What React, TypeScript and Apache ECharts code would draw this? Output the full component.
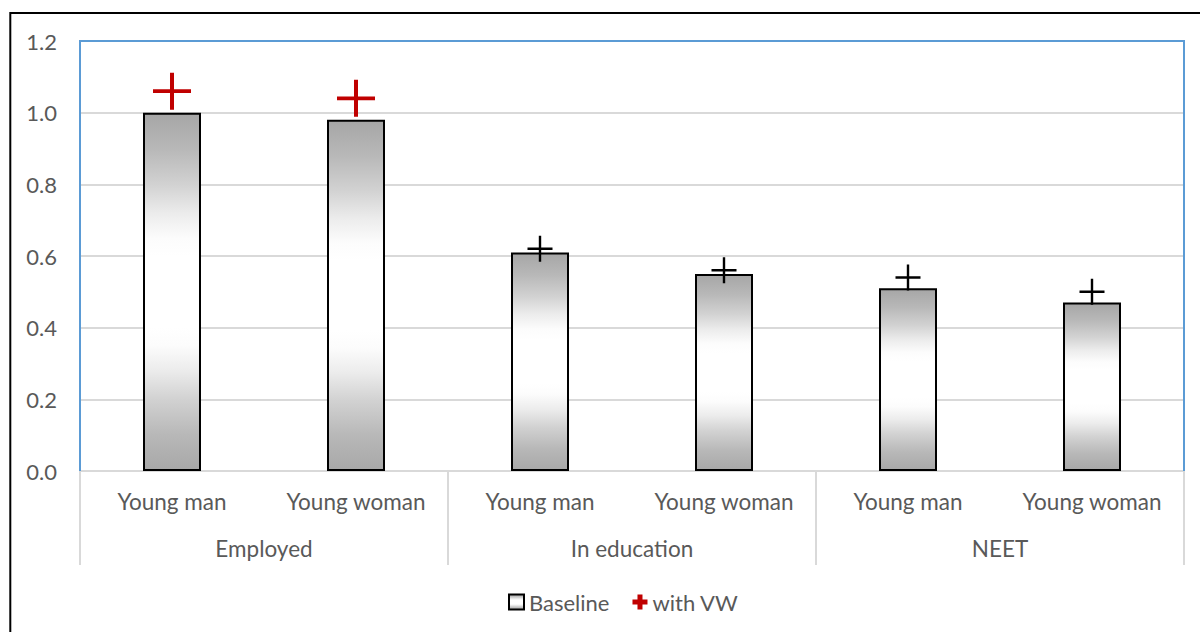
import React, { useEffect, useRef } from "react";
import * as echarts from "echarts";

// Sub-categories along the inner axis row and their outer groups
const subCategories = ["Young man", "Young woman", "Young man", "Young woman", "Young man", "Young woman"];
const groups = ["Employed", "In education", "NEET"];

// Baseline values (bars)
const baselineValues = [1.0, 0.98, 0.61, 0.55, 0.51, 0.47];
// Values with VW (plus markers)
const withVWValues = [1.06, 1.04, 0.62, 0.56, 0.54, 0.5];
// Which with-VW points are highlighted in red
const highlighted = [true, true, false, false, false, false];

const yTicks = { min: 0, max: 1.2, interval: 0.2 };

const RED = "#c00000";
const TEXT = "#595959";
const FONT = "Lato";

const bigPlus = "path://M17,0H21V17H38V21H21V38H17V21H0V17H17Z";
const smallPlus = "path://M11.75,0H14.25V11.75H26V14.25H14.25V26H11.75V14.25H0V11.75H11.75Z";
const legendPlus = "path://M5,0H10V5H15V10H10V15H5V10H0V5H5Z";

export default function App() {
  const ref = useRef<HTMLDivElement>(null);

  useEffect(() => {
    if (!ref.current) return;
    const chart = echarts.init(ref.current, undefined, { renderer: "svg" });

    // Grey at both ends, fading smoothly into a white band in the middle
    const barFill = new echarts.graphic.LinearGradient(0, 0, 0, 1, [
      { offset: 0, color: "#a6a6a6" },
      { offset: 0.1, color: "#b8b8b8" },
      { offset: 0.2, color: "#d2d2d2" },
      { offset: 0.28, color: "#ececec" },
      { offset: 0.35, color: "#fcfcfc" },
      { offset: 0.4, color: "#ffffff" },
      { offset: 0.6, color: "#ffffff" },
      { offset: 0.65, color: "#fcfcfc" },
      { offset: 0.72, color: "#ececec" },
      { offset: 0.8, color: "#d2d2d2" },
      { offset: 0.9, color: "#b8b8b8" },
      { offset: 1, color: "#a8a8a8" },
    ]);

    const scatterData = withVWValues.map((v, i) =>
      highlighted[i]
        ? { value: v, symbol: bigPlus, symbolSize: [38, 37], itemStyle: { color: RED } }
        : { value: v, symbol: smallPlus, symbolSize: [25, 26], itemStyle: { color: "#000000" } }
    );

    chart.setOption({
      animation: false,
      backgroundColor: "#ffffff",
      textStyle: { fontFamily: FONT },
      grid: { left: 80, top: 41, right: 16, bottom: 161, containLabel: false },
      legend: {
        left: 503,
        top: 586,
        itemWidth: 15,
        itemHeight: 15,
        itemGap: 23,
        textStyle: { color: TEXT, fontSize: 22, fontFamily: FONT },
        data: [
          { name: "Baseline", icon: "rect" },
          { name: "with VW", icon: legendPlus, itemStyle: { color: RED } },
        ],
      },
      xAxis: [
        {
          type: "category",
          data: subCategories,
          position: "bottom",
          axisLine: { show: true, lineStyle: { color: "#d9d9d9", width: 2 } },
          axisTick: { show: false },
          axisLabel: { color: TEXT, fontSize: 22.5, fontFamily: FONT, margin: 19, interval: 0 },
          splitLine: { show: false },
        },
        {
          type: "category",
          data: groups,
          position: "bottom",
          axisLine: { show: false },
          axisTick: { show: true, length: 94, lineStyle: { color: "#d9d9d9", width: 2 } },
          axisLabel: { color: TEXT, fontSize: 22.5, fontFamily: FONT, margin: 66, interval: 0 },
          splitLine: { show: false },
        },
      ],
      yAxis: {
        type: "value",
        min: yTicks.min,
        max: yTicks.max,
        interval: yTicks.interval,
        axisLine: { show: false },
        axisTick: { show: false },
        axisLabel: {
          color: TEXT,
          fontSize: 22,
          fontFamily: FONT,
          margin: 23,
          formatter: (v: number) => v.toFixed(1),
        },
        splitLine: { show: true, showMaxLine: false, lineStyle: { color: "#d9d9d9", width: 2 } },
      },
      series: [
        {
          name: "Baseline",
          type: "bar",
          xAxisIndex: 0,
          barWidth: 58,
          data: baselineValues,
          itemStyle: { color: barFill, borderColor: "#000000", borderWidth: 2 },
          z: 2,
        },
        {
          name: "with VW",
          type: "scatter",
          xAxisIndex: 0,
          data: scatterData,
          itemStyle: { color: RED, opacity: 1 },
          z: 5,
        },
      ],
      graphic: [
        {
          type: "polyline",
          shape: { points: [[80, 471], [80, 41], [1184, 41], [1184, 471]] },
          style: { stroke: "#5b9bd5", lineWidth: 2, fill: null },
          z: 10,
          silent: true,
        },
        {
          type: "rect",
          shape: { x: 10.3, y: 13, width: 1200, height: 640 },
          style: { stroke: "#000000", lineWidth: 2, fill: null },
          z: 10,
          silent: true,
        },
      ],
    });

    return () => chart.dispose();
  }, []);

  return (
    <div
      ref={ref}
      style={{ position: "absolute", left: 0, top: 0, width: 1200, height: 632 }}
    />
  );
}
